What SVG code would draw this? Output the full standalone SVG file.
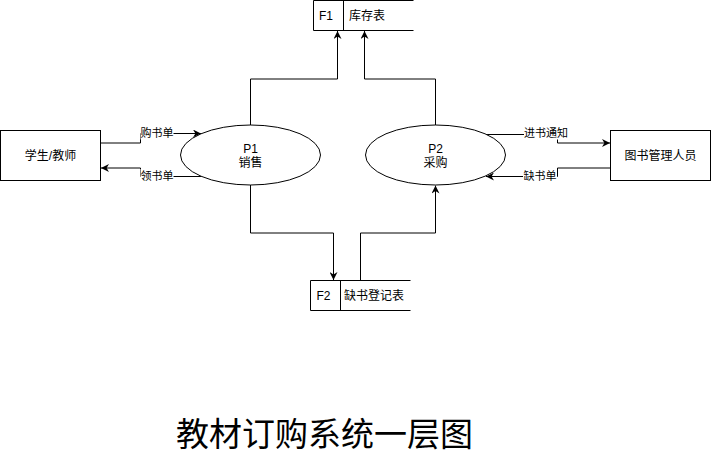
<svg xmlns="http://www.w3.org/2000/svg" width="712" height="455" viewBox="0 0 712 455">
<defs>
<marker id="arr" viewBox="0 0 10 10" refX="10" refY="5" markerWidth="8" markerHeight="8" markerUnits="userSpaceOnUse" orient="auto">
<path d="M0,0 L10,5 L0,10 L3,5 z" fill="#000"/>
</marker>
<style>
text{font-family:"Liberation Sans","Noto Sans CJK SC",sans-serif;fill:#000}
.n{font-size:12px;text-anchor:middle;dominant-baseline:central}
.l{font-size:12px;dominant-baseline:central}
.e{font-size:11px;text-anchor:middle;dominant-baseline:central}
.shape{fill:#fff;stroke:#000;stroke-width:1}
.edge{fill:none;stroke:#000;stroke-width:1}
.bg{fill:#fff}
</style>
</defs>
<rect width="712" height="455" fill="#fff"/>
<g id="edges">
<path class="edge" d="M250.5,125 L250.5,79 L337.5,79 L337.5,31" marker-end="url(#arr)"/>
<path class="edge" d="M435.5,125 L435.5,79 L364.5,79 L364.5,31" marker-end="url(#arr)"/>
<path class="edge" d="M250.5,185 L250.5,233 L333.5,233 L333.5,280" marker-end="url(#arr)"/>
<path class="edge" d="M360.5,280 L360.5,233 L435.5,233 L435.5,185.5" marker-end="url(#arr)"/>
<path class="edge" d="M101,143 L140.5,143 L140.5,133.5 L201,133.5" marker-end="url(#arr)"/>
<path class="edge" d="M201,176.5 L140.5,176.5 L140.5,168 L101,168" marker-end="url(#arr)"/>
<path class="edge" d="M486,134.5 L557.5,134.5 L557.5,143 L610,143" marker-end="url(#arr)"/>
<path class="edge" d="M610,168 L557.5,168 L557.5,176.5 L486,176.5" marker-end="url(#arr)"/>
<rect class="bg" x="140.5" y="126.5" width="33" height="13"/>
<text class="e" x="157" y="133">购书单</text>
<rect class="bg" x="140.5" y="169" width="33" height="13"/>
<text class="e" x="157" y="175.5">领书单</text>
<rect class="bg" x="524" y="126.5" width="44" height="13"/>
<text class="e" x="546" y="133">进书通知</text>
<rect class="bg" x="523" y="169.5" width="34" height="13"/>
<text class="e" x="540" y="176">缺书单</text>
</g>
<g id="student">
<rect class="shape" x="0.5" y="130.5" width="100" height="50"/>
<text class="n" x="50.5" y="155.5">学生/教师</text>
</g>
<g id="librarian">
<rect class="shape" x="610.5" y="130.5" width="100" height="50"/>
<text class="n" x="660.5" y="155.5">图书管理人员</text>
</g>
<g id="p1">
<ellipse class="shape" cx="250.5" cy="155" rx="70" ry="30"/>
<text class="n" x="250.5" y="148.5">P1</text>
<text class="n" x="250.5" y="162.5">销售</text>
</g>
<g id="p2">
<ellipse class="shape" cx="435.5" cy="155" rx="70" ry="30"/>
<text class="n" x="435.5" y="148.5">P2</text>
<text class="n" x="435.5" y="162.5">采购</text>
</g>
<g id="f1">
<path class="edge" d="M413.5,0.5 L313.5,0.5 L313.5,30.5 L413.5,30.5 M343.5,0.5 L343.5,30.5"/>
<text class="n" x="326" y="15.5">F1</text>
<text class="l" x="349" y="15.5">库存表</text>
</g>
<g id="f2">
<path class="edge" d="M410.5,280.5 L310.5,280.5 L310.5,310.5 L410.5,310.5 M340.5,280.5 L340.5,310.5"/>
<text class="n" x="323.5" y="295.5">F2</text>
<text class="l" x="344" y="295.5">缺书登记表</text>
</g>
<g id="title">
<text x="324.5" y="446" style="font-size:33px;text-anchor:middle">教材订购系统一层图</text>
</g>
</svg>
